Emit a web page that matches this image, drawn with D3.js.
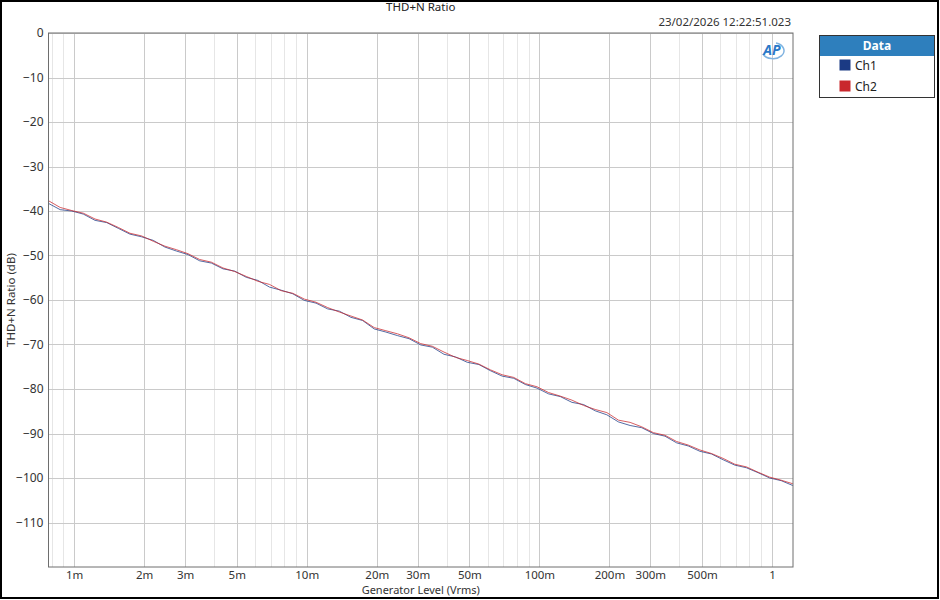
<!DOCTYPE html>
<html><head><meta charset="utf-8">
<script src="https://cdn.jsdelivr.net/npm/d3@7"></script>
<style>
html,body{margin:0;padding:0;background:#fff;}
svg{display:block;}
text{font-family:"Segoe UI","Noto Sans","Open Sans",sans-serif;}
</style></head>
<body><svg id="c" width="940" height="600"></svg>
<script>
const title = "THD+N Ratio";
const timestamp = "23/02/2026 12:22:51.023";
const xTitle = "Generator Level (Vrms)";
const yTitle = "THD+N Ratio (dB)";
const seriesNames = ["Ch1", "Ch2"];
const seriesColors = ["#1b3a84", "#c9282d"];
const legendTitle = "Data";

const levels = [
  7.762e-4, 8.710e-4, 9.772e-4,
  1.096e-3, 1.230e-3, 1.380e-3, 1.549e-3, 1.738e-3, 1.950e-3, 2.188e-3, 2.455e-3, 2.754e-3, 3.090e-3,
  3.467e-3, 3.890e-3, 4.365e-3, 4.898e-3, 5.495e-3, 6.166e-3, 6.918e-3, 7.762e-3, 8.710e-3, 9.772e-3,
  1.096e-2, 1.230e-2, 1.380e-2, 1.549e-2, 1.738e-2, 1.950e-2, 2.188e-2, 2.455e-2, 2.754e-2, 3.090e-2,
  3.467e-2, 3.890e-2, 4.365e-2, 4.898e-2, 5.495e-2, 6.166e-2, 6.918e-2, 7.762e-2, 8.710e-2, 9.772e-2,
  1.096e-1, 1.230e-1, 1.380e-1, 1.549e-1, 1.738e-1, 1.950e-1, 2.188e-1, 2.455e-1, 2.754e-1, 3.090e-1,
  3.467e-1, 3.890e-1, 4.365e-1, 4.898e-1, 5.495e-1, 6.166e-1, 6.918e-1, 7.762e-1, 8.710e-1, 9.772e-1,
  1.096, 1.230
];
const ch1 = [
  -38.3, -39.7, -40.0, -40.7, -42.1, -42.6, -43.9, -45.2, -45.8, -46.6,
  -48.1, -49.0, -49.8, -51.2, -51.7, -53.0, -53.5, -54.9, -55.6, -57.1,
  -57.8, -58.6, -60.1, -60.7, -62.0, -62.5, -63.9, -64.6, -66.5, -67.2,
  -68.0, -68.7, -70.1, -70.6, -72.2, -72.8, -74.0, -74.5, -75.9, -77.1,
  -77.6, -79.0, -79.8, -81.1, -81.7, -83.0, -83.5, -84.9, -85.8, -87.4,
  -88.2, -88.7, -90.0, -90.6, -92.1, -92.8, -94.0, -94.6, -95.9, -97.1,
  -97.7, -98.8, -100.0, -100.6, -101.7
];
const ch2 = [
  -37.7, -39.2, -39.9, -40.5, -41.8, -42.5, -43.7, -45.0, -45.6, -46.8,
  -47.9, -48.7, -49.6, -50.9, -51.5, -52.8, -53.6, -54.7, -55.8, -56.5,
  -57.9, -58.5, -59.8, -60.5, -61.7, -62.7, -63.6, -64.5, -66.2, -66.9,
  -67.6, -68.5, -69.8, -70.4, -71.7, -72.9, -73.6, -74.4, -75.7, -76.8,
  -77.4, -78.8, -79.5, -80.8, -81.6, -82.5, -83.7, -84.6, -85.3, -87.0,
  -87.5, -88.5, -89.8, -90.4, -91.8, -92.6, -93.7, -94.5, -95.6, -96.9,
  -97.5, -98.7, -99.8, -100.5, -101.3
];
const xTickValues = [0.001, 0.002, 0.003, 0.005, 0.01, 0.02, 0.03, 0.05, 0.1, 0.2, 0.3, 0.5, 1];
const xTickLabels = ["1m", "2m", "3m", "5m", "10m", "20m", "30m", "50m", "100m", "200m", "300m", "500m", "1"];
const yTickValues = [0, -10, -20, -30, -40, -50, -60, -70, -80, -90, -100, -110];
const xDomain = [7.76e-4, 1.231];
const yDomain = [-120, 0];

const svg = d3.select("#c");
const L = 48.5, T = 33, R = 793, B = 567;
const x = d3.scaleLog().domain(xDomain).range([L, R]);
const y = d3.scaleLinear().domain(yDomain).range([B, T]);

// outer border
svg.append("rect").attr("x", 1).attr("y", 1).attr("width", 937).attr("height", 597)
  .attr("fill", "#fff").attr("stroke", "#000").attr("stroke-width", 2);

// minor grid lines (vertical)
const minor = [];
for (let e = -4; e <= 0; e++) for (let m = 1; m <= 9; m++) {
  const v = m * Math.pow(10, e);
  if (v >= xDomain[0] && v <= xDomain[1]) minor.push(v);
}
const isMajor = v => xTickValues.some(t => Math.abs(t - v) / t < 1e-6);
const g = svg.append("g");
g.selectAll("line.mn").data(minor.filter(v => !isMajor(v))).join("line")
  .attr("x1", d => Math.round(x(d)) + 0.5).attr("x2", d => Math.round(x(d)) + 0.5)
  .attr("y1", T).attr("y2", B).attr("stroke", "#e6e6e6").attr("stroke-width", 1);
g.selectAll("line.mj").data(xTickValues).join("line")
  .attr("x1", d => Math.round(x(d)) + 0.5).attr("x2", d => Math.round(x(d)) + 0.5)
  .attr("y1", T).attr("y2", B).attr("stroke", "#cacaca").attr("stroke-width", 1);
g.selectAll("line.hy").data(yTickValues).join("line")
  .attr("x1", L).attr("x2", R)
  .attr("y1", d => Math.round(y(d)) + 0.5).attr("y2", d => Math.round(y(d)) + 0.5)
  .attr("stroke", "#cacaca").attr("stroke-width", 1);

// data lines
const line = d3.line().x((d, i) => x(levels[i])).y(d => y(d));
const clip = svg.append("clipPath").attr("id", "pc").append("rect")
  .attr("x", L).attr("y", T).attr("width", R - L).attr("height", B - T);
[ch1, ch2].forEach((s, k) => {
  svg.append("path").datum(s).attr("d", line).attr("fill", "none")
    .attr("stroke", seriesColors[k]).attr("stroke-width", 1).attr("stroke-opacity", 0.75)
    .attr("clip-path", "url(#pc)");
});

// plot frame
svg.append("rect").attr("x", L).attr("y", T).attr("width", R - L).attr("height", B - T)
  .attr("fill", "none").attr("stroke", "#6e6e6e").attr("stroke-width", 1);

// axes labels using d3 axes (no lines)
const yAxis = d3.axisLeft(y).tickValues(yTickValues).tickSize(0).tickPadding(5);
const ya = svg.append("g").attr("transform", `translate(${L},0)`).call(yAxis);
ya.select(".domain").remove();
ya.selectAll("text").attr("font-family", "'Liberation Sans', Arial, sans-serif").attr("font-size", 12).attr("fill", "#333");

const xAxis = d3.axisBottom(x).tickValues(xTickValues).tickFormat((d, i) => xTickLabels[i]).tickSize(0).tickPadding(4);
const xa = svg.append("g").attr("transform", `translate(0,${B})`).call(xAxis);
xa.select(".domain").remove();
xa.selectAll("text").attr("font-size", 11.5).attr("fill", "#333")
  .attr("font-family", "'Segoe UI','Noto Sans','Open Sans',sans-serif");

// titles
svg.append("text").attr("x", (L + R) / 2).attr("y", 11).attr("text-anchor", "middle")
  .attr("font-size", 11.5).attr("fill", "#222").text(title);
svg.append("text").attr("x", 791).attr("y", 26).attr("text-anchor", "end")
  .attr("font-size", 11.5).attr("fill", "#333").text(timestamp);
svg.append("text").attr("x", (L + R) / 2).attr("y", 594).attr("text-anchor", "middle")
  .attr("font-size", 11).attr("fill", "#333").text(xTitle);
svg.append("text").attr("transform", `translate(15,${(T + B) / 2}) rotate(-90)`)
  .attr("text-anchor", "middle").attr("font-size", 11.5).attr("fill", "#333").text(yTitle);

// AP logo
const logo = svg.append("g").attr("transform", "translate(772,50)");
logo.append("path").attr("d", "M -9 4 A 11 8 0 1 0 4 -7").attr("fill", "none")
  .attr("stroke", "#7fb2e0").attr("stroke-width", 1.5);
logo.append("text").attr("x", 0).attr("y", 5).attr("text-anchor", "middle")
  .attr("font-size", 14).attr("font-weight", "bold").attr("font-style", "italic")
  .attr("fill", "#2a78c8").text("AP");

// legend
const lg = svg.append("g");
lg.append("rect").attr("x", 819.5).attr("y", 35.5).attr("width", 115).attr("height", 62)
  .attr("fill", "#fff").attr("stroke", "#333").attr("stroke-width", 1);
lg.append("rect").attr("x", 820).attr("y", 36).attr("width", 114).attr("height", 20).attr("fill", "#2e7fbd");
lg.append("text").attr("x", 877).attr("y", 50).attr("text-anchor", "middle")
  .attr("font-size", 12).attr("font-weight", "bold").attr("fill", "#fff").text(legendTitle);
seriesNames.forEach((n, i) => {
  lg.append("rect").attr("x", 839.5).attr("y", 59.5 + i * 21).attr("width", 11).attr("height", 11)
    .attr("fill", seriesColors[i]);
  lg.append("text").attr("x", 855).attr("y", 70 + i * 21).attr("font-size", 12).attr("fill", "#222").text(n);
});
</script></body></html>
